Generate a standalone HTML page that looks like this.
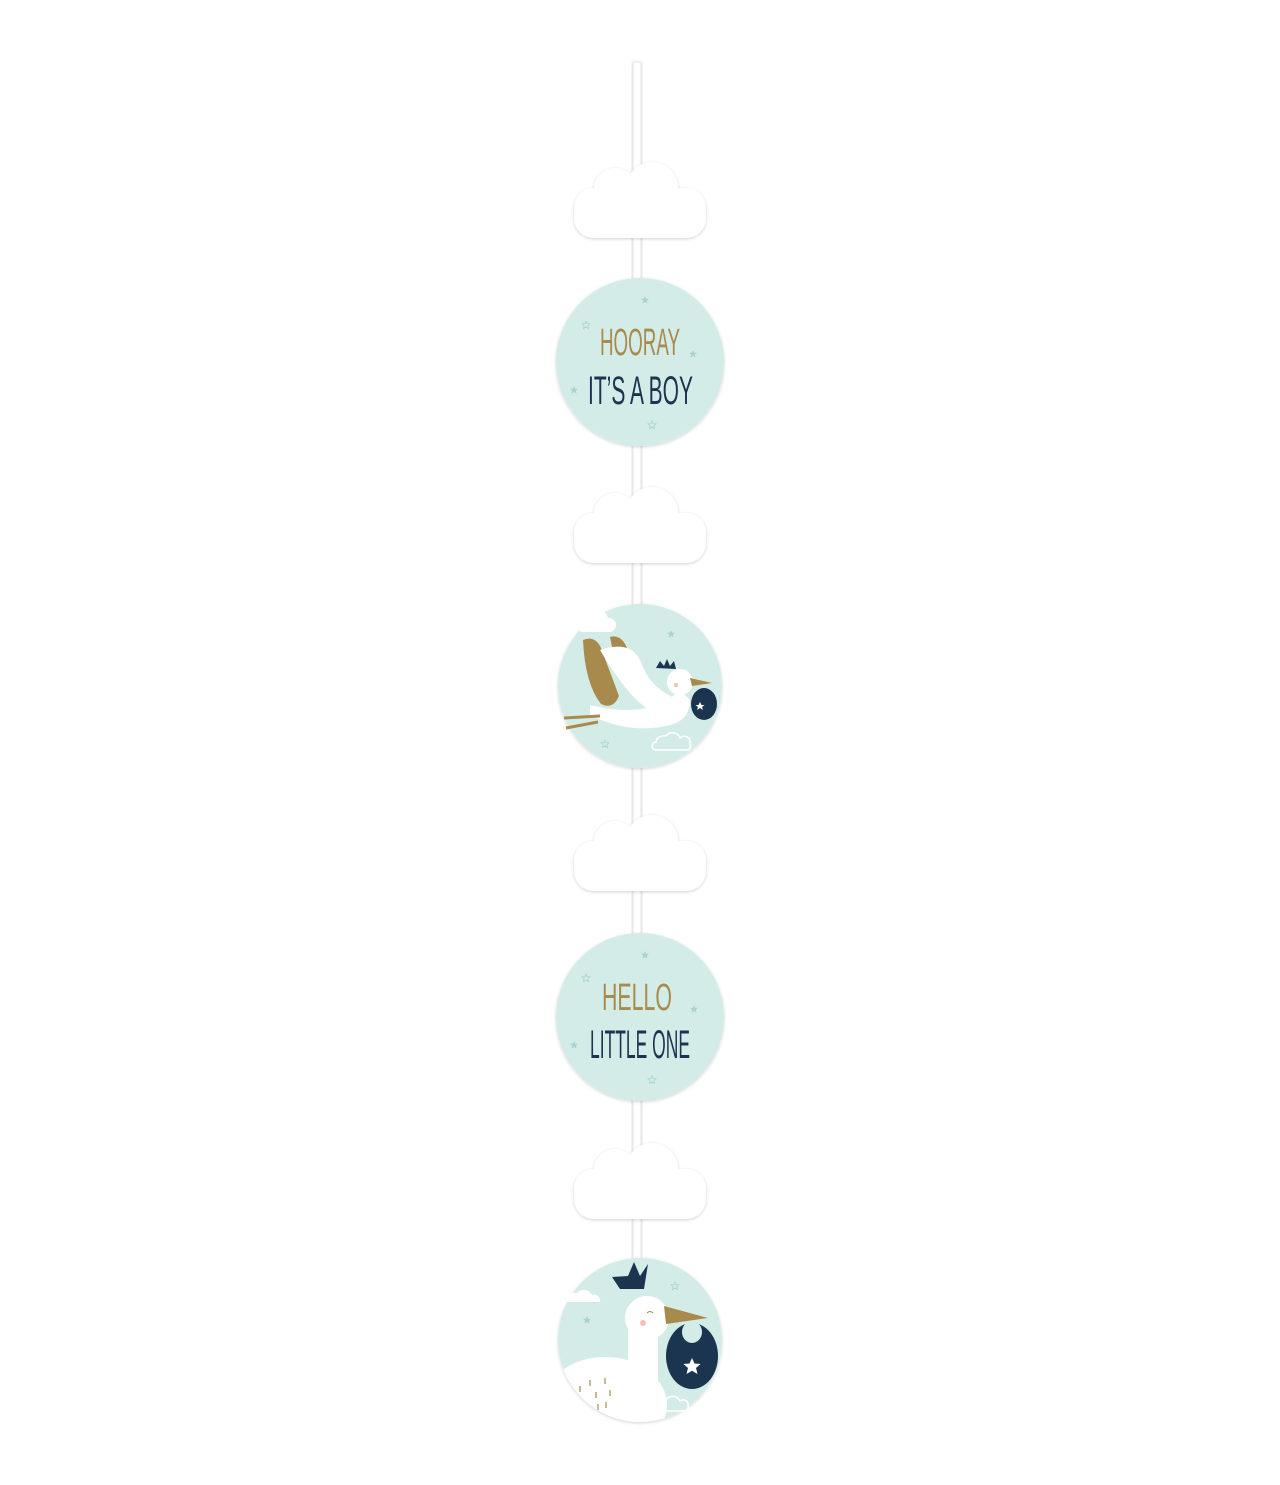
<!DOCTYPE html>
<html><head><meta charset="utf-8"><style>
html,body{margin:0;padding:0;background:#fff;}
svg{display:block;}
text{font-family:"Liberation Sans",sans-serif;font-weight:normal;}
</style></head><body>
<svg width="1280" height="1485" viewBox="0 0 1280 1485" xmlns="http://www.w3.org/2000/svg">
<defs>
<filter id="sh" x="-20%" y="-20%" width="140%" height="140%"><feDropShadow dx="0" dy="1" stdDeviation="1.6" flood-color="#000" flood-opacity="0.18"/></filter>
<g id="cloud">
<circle cx="615" cy="27" r="21"/>
<circle cx="652" cy="26" r="26"/>
<rect x="574" y="26" width="132" height="50" rx="20"/>
</g>
<g id="star"><path d="M0,-4 L1.2,-1.3 4,-1.2 1.9,0.7 2.5,3.6 0,2 -2.5,3.6 -1.9,0.7 -4,-1.2 -1.2,-1.3Z"/></g>
<clipPath id="c4"><circle cx="640" cy="1340" r="82"/></clipPath>
<clipPath id="c2"><circle cx="640" cy="686" r="82"/></clipPath>
</defs>
<!-- ribbon -->
<rect x="633" y="62" width="8" height="1200" fill="#fff" stroke="#e6e6e6" stroke-width="1" filter="url(#sh)"/>
<!-- clouds -->
<g fill="#fff" filter="url(#sh)">
<use href="#cloud" y="162"/>
<use href="#cloud" y="487"/>
<use href="#cloud" y="815"/>
<use href="#cloud" y="1143"/>
</g>
<!-- circle 1 -->
<g filter="url(#sh)"><circle cx="640" cy="362" r="84" fill="#d4ece8"/></g>
<g fill="#a9d4cd">
<use href="#star" x="645" y="300"/><use href="#star" x="693" y="354"/><use href="#star" x="574" y="390"/>
</g>
<g fill="none" stroke="#a9d4cd" stroke-width="0.8"><use href="#star" x="586" y="325"/><use href="#star" x="652" y="425"/></g>
<text x="600" y="355" font-size="38" fill="#a88a4c" textLength="80" lengthAdjust="spacingAndGlyphs">HOORAY</text>
<text x="588" y="404" font-size="40" fill="#1b3550" textLength="105" lengthAdjust="spacingAndGlyphs">IT’S A BOY</text>
<!-- circle 2 stork flying -->
<g filter="url(#sh)"><circle cx="640" cy="686" r="82" fill="#d4ece8"/></g>
<g>
<path d="M580,622 a10,8 0 0 1 12,-8 a9,9 0 0 1 16,4 a7,7 0 0 1 2,14 h-28 a6,6 0 0 1 -2,-10z" fill="#fff"/>
<path d="M656,742 a8,6 0 0 1 10,-6 a8,8 0 0 1 14,2 a6,6 0 0 1 10,6 a4,4 0 0 1 -2,6 h-32 a4,4 0 0 1 0,-8z" fill="none" stroke="#fff" stroke-width="1.5"/>
<path d="M583,640 q12,-5 18,8 l18,48 q-6,14 -18,8 q-16,-20 -18,-64z" fill="#a88a4c"/>
<path d="M610,637 q14,-4 20,20 l8,20 q-8,10 -20,0z" fill="#a88a4c"/>
<path d="M600,650 q30,50 50,60 l30,-10 q-30,-10 -40,-40 q-10,-20 -40,-10z" fill="#fff"/>
<path d="M590,715 q40,20 80,10 q20,-5 20,-25 l-10,-10 q-30,30 -90,15z" fill="#fff"/>
<circle cx="680" cy="682" r="13" fill="#fff"/>
<path d="M690,678 l22,5 l-20,3z" fill="#a88a4c"/>
<path d="M656,668 l4,-7 l4,5 l3,-7 l3,7 l4,-5 l2,8z" fill="#1b3550"/>
<ellipse cx="704" cy="704" rx="13" ry="16" fill="#1b3550"/>
<path d="M700,702 l1.5,3 3,0 -2.5,2 1,3 -3,-2 -3,2 1,-3 -2.5,-2 3,0z" fill="#fff"/>
<path d="M600,716 l-36,2 M598,722 l-32,6" stroke="#a88a4c" stroke-width="3" fill="none"/>
<circle cx="676" cy="685" r="2" fill="#f5c0b0"/>
</g>
<g fill="none" stroke="#a9d4cd" stroke-width="0.8"><use href="#star" x="605" y="744"/></g>
<g fill="#a9d4cd"><use href="#star" x="671" y="634"/></g>
<!-- circle 3 -->
<g filter="url(#sh)"><circle cx="640" cy="1017" r="84" fill="#d4ece8"/></g>
<g fill="#a9d4cd">
<use href="#star" x="645" y="955"/><use href="#star" x="694" y="1009"/><use href="#star" x="574" y="1045"/>
</g>
<g fill="none" stroke="#a9d4cd" stroke-width="0.8"><use href="#star" x="586" y="978"/><use href="#star" x="652" y="1080"/></g>
<text x="602" y="1010" font-size="38" fill="#a88a4c" textLength="70" lengthAdjust="spacingAndGlyphs">HELLO</text>
<text x="590" y="1058" font-size="40" fill="#1b3550" textLength="100" lengthAdjust="spacingAndGlyphs">LITTLE ONE</text>
<!-- circle 4 -->
<g filter="url(#sh)"><circle cx="640" cy="1340" r="82" fill="#d4ece8"/></g>
<g clip-path="url(#c4)">
<ellipse cx="605" cy="1405" rx="62" ry="48" fill="#fff"/>
<rect x="628" y="1320" width="30" height="70" fill="#fff"/>
<circle cx="647" cy="1318" r="22" fill="#fff"/>
<path d="M580,1386 v6 M590,1380 v6 M596,1392 v6 M605,1378 v6 M610,1390 v6 M598,1404 v6 M606,1402 v6" stroke="#a88a4c" stroke-width="1.2"/>
</g>
<path d="M567,1300 a8,6 0 0 1 10,-7 a9,9 0 0 1 15,2 a6,6 0 0 1 8,7 h-33z" fill="#fff"/>
<path d="M658,1405 a6,5 0 0 1 8,-5 a8,8 0 0 1 14,1 a5,5 0 0 1 8,5 a4,4 0 0 1 -2,5 h-28z" fill="none" stroke="#fff" stroke-width="1.5"/>
<path d="M612,1277 l8,12 h24 l4,-25 l-8,12 l-6,-14 l-6,14 z" fill="#1b3550"/>
<path d="M664,1306 l44,12 l-42,6z" fill="#a88a4c"/>
<ellipse cx="692" cy="1356" rx="26" ry="33" fill="#1b3550"/>
<ellipse cx="692" cy="1332" rx="10" ry="11" fill="#d4ece8"/>
<path d="M692,1358 l2.5,5.5 6,0.5 -4.5,4 1.5,6 -5.5,-3.2 -5.5,3.2 1.5,-6 -4.5,-4 6,-0.5z" fill="#fff"/>
<circle cx="643" cy="1323" r="3" fill="#f5c0b0"/>
<path d="M647,1313 q3,-3 6,0" stroke="#a88a4c" fill="none" stroke-width="1"/>
<g fill="#a9d4cd"><use href="#star" x="587" y="1320"/></g>
<g fill="none" stroke="#a9d4cd" stroke-width="0.8"><use href="#star" x="675" y="1286"/></g>
</svg>
</body></html>
